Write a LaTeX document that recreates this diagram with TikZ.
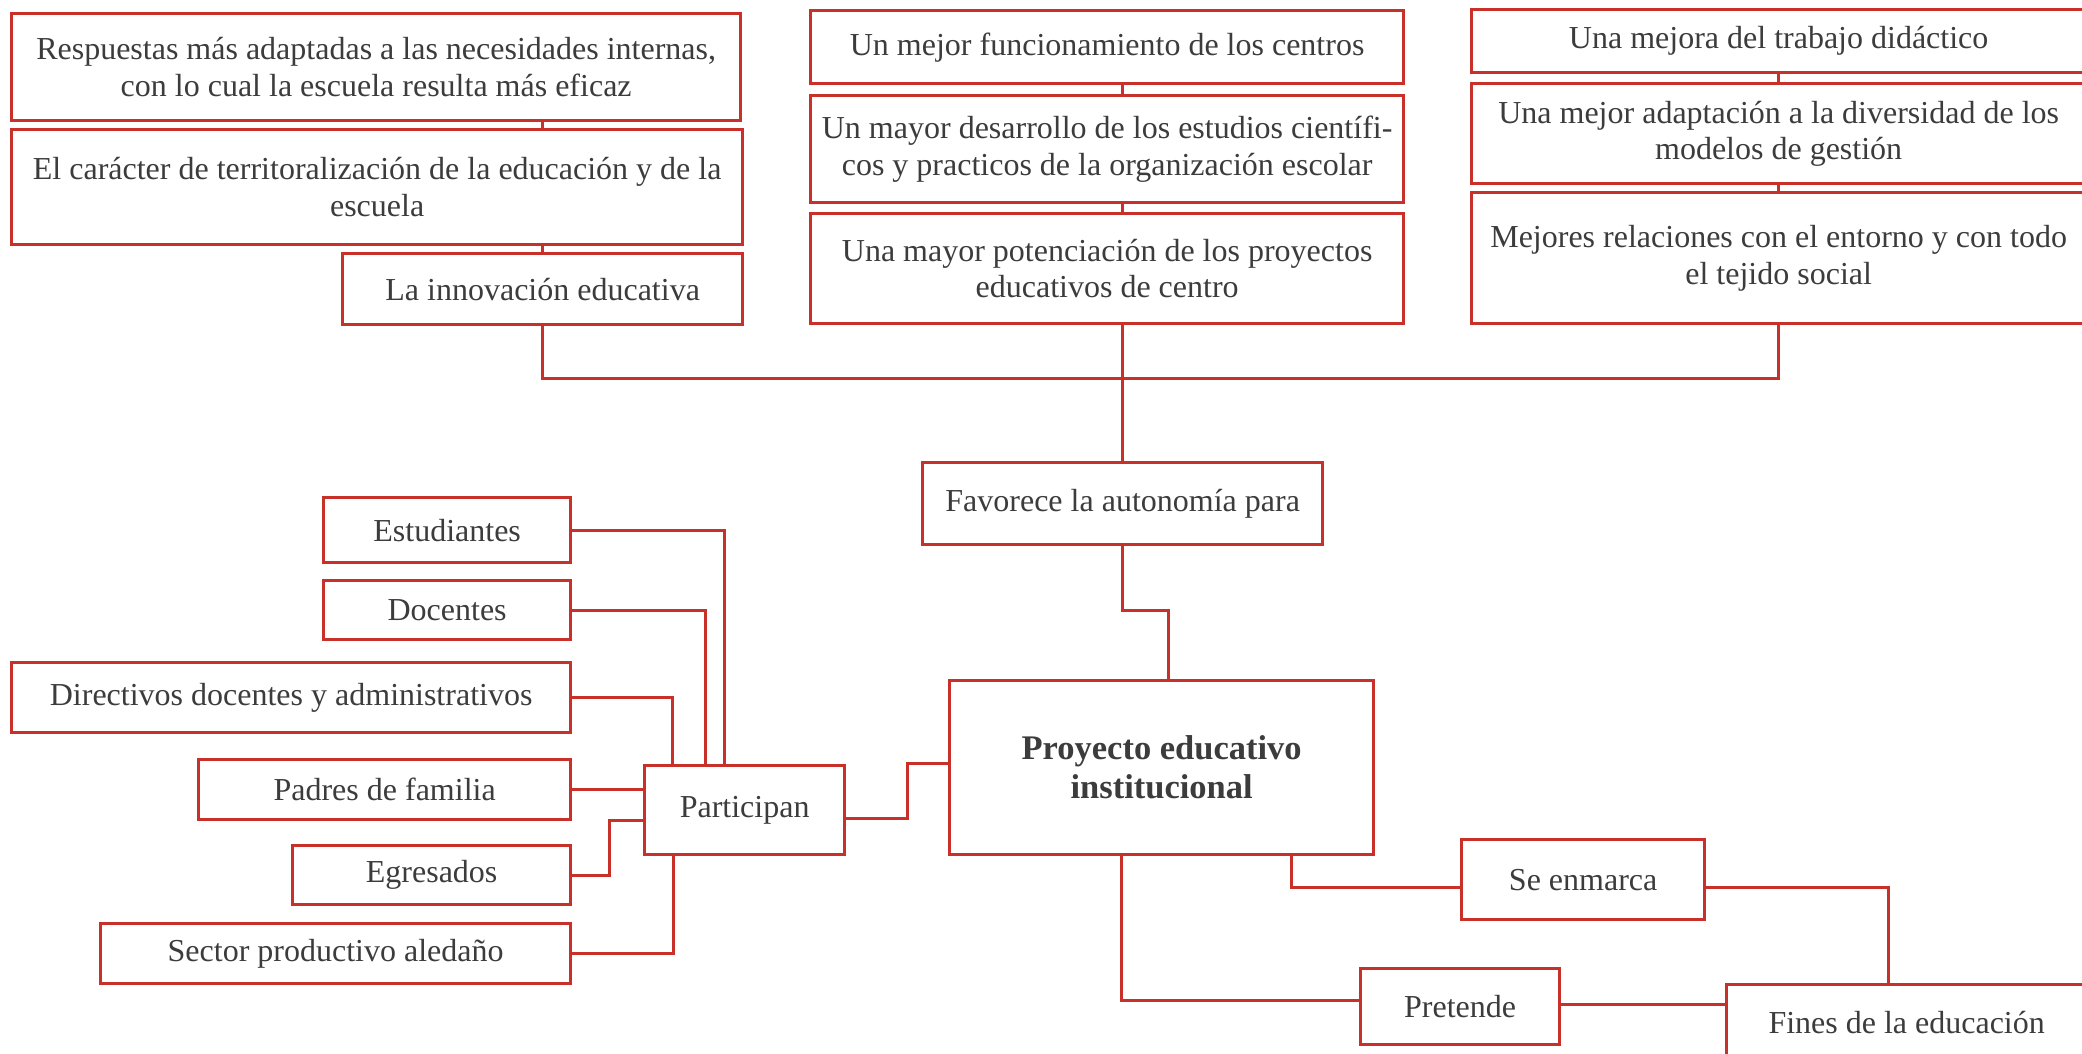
\documentclass[tikz,border=0pt]{standalone}
\usepackage{fontspec}
\setmainfont{Liberation Serif}
\usetikzlibrary{calc}
\definecolor{mred}{RGB}{200,48,42}
\definecolor{mtext}{RGB}{60,60,60}
\begin{document}
\begin{tikzpicture}[x=1pt,y=-1pt,
  box/.style={draw=mred, line width=3.3pt, fill=white, inner sep=0pt, align=center, text=mtext, font=\fontsize{32}{36.5}\selectfont, anchor=north west},
  link/.style={draw=mred, line width=3pt}]
\useasboundingbox (0,0) rectangle (2082,1053);
\clip (0,0) rectangle (2082,1053);
\fill[white] (0,0) rectangle (2082,1053);

% top-left column
\node[box, minimum width=729pt, minimum height=107pt] (r1) at (10,12) {Respuestas más adaptadas a las necesidades internas,\\con lo cual la escuela resulta más eficaz};
\node[box, minimum width=731pt, minimum height=115pt] (r2) at (10,128) {El carácter de territoralización de la educación y de la\\escuela};
\node[box, minimum width=400pt, minimum height=71pt] (r3) at (341,252) {La innovación educativa};

% top-centre column
\node[box, minimum width=593pt, minimum height=73pt] (c1) at (809,9) {Un mejor funcionamiento de los centros};
\node[box, minimum width=593pt, minimum height=107pt] (c2) at (809,94) {Un mayor desarrollo de los estudios científi-\\cos y practicos de la organización escolar};
\node[box, minimum width=593pt, minimum height=110pt] (c3) at (809,212) {Una mayor potenciación de los proyectos\\educativos de centro};

% top-right column
\node[box, minimum width=614pt, minimum height=63pt] (d1) at (1470,8) {Una mejora del trabajo didáctico};
\node[box, minimum width=614pt, minimum height=100pt] (d2) at (1470,82) {Una mejor adaptación a la diversidad de los\\modelos de gestión};
\node[box, minimum width=614pt, minimum height=131pt] (d3) at (1470,191) {Mejores relaciones con el entorno y con todo\\el tejido social};

% middle
\node[box, minimum width=400pt, minimum height=82pt] (fav) at (921,461) {Favorece la autonomía para};
\node[box, minimum width=424pt, minimum height=174pt, font=\bfseries\fontsize{34.5}{39}\selectfont] (pei) at (948,679) {Proyecto educativo\\institucional};

% left participants
\node[box, minimum width=200pt, minimum height=89pt] (part) at (643,764) {Participan};
\node[box, minimum width=247pt, minimum height=65pt] (est) at (322,496) {Estudiantes};
\node[box, minimum width=247pt, minimum height=59pt] (doc) at (322,579) {Docentes};
\node[box, minimum width=559pt, minimum height=70pt] (dir) at (10,661) {Directivos docentes y administrativos};
\node[box, minimum width=372pt, minimum height=60pt] (pad) at (197,758) {Padres de familia};
\node[box, minimum width=278pt, minimum height=59pt] (egr) at (291,844) {Egresados};
\node[box, minimum width=470pt, minimum height=60pt] (sec) at (99,922) {Sector productivo aledaño};

% bottom right
\node[box, minimum width=243pt, minimum height=80pt] (sen) at (1460,838) {Se enmarca};
\node[box, minimum width=199pt, minimum height=76pt] (pre) at (1359,967) {Pretende};
\node[box, minimum width=360pt, minimum height=75pt] (fin) at (1725,983) {Fines de la educación};

% connectors top
\draw[link] (r1.south -| r3.north) -- (r2.north -| r3.north);
\draw[link] (r2.south -| r3.north) -- (r3.north);
\coordinate (bus) at (1120,378);
\draw[link] (r3.south) |- (bus) -| (d3.south);
\draw[link] (c1.south -| fav.north) -- (c2.north -| fav.north);
\draw[link] (c2.south -| fav.north) -- (c3.north -| fav.north);
\draw[link] (c3.south -| fav.north) -- (fav.north);
\draw[link] (d1.south -| d3.south) -- (d2.north -| d3.south);
\draw[link] (d2.south -| d3.south) -- (d3.north);
\draw[link] (fav.south) -- ++(0,64) -| ([xshift=7pt]pei.north);

% connectors participants
\draw[link] (est.east) -| (part.north -| 724,0);
\draw[link] (doc.east) -| (part.north -| 705,0);
\draw[link] (dir.east) -| (part.north -| 672,0);
\draw[link] (pad.east) -- (part.west |- pad.east);
\draw[link] (egr.east) -- ++(37,0) |- (part.west |- 0,820);
\draw[link] (sec.east) -| (part.south -| 673,0);
\draw[link] (part.east |- 0,818) -- ++(61,0) |- (pei.west |- 0,763);

% connectors bottom right
\draw[link] (pei.south -| 1291,0) |- (sen.west |- 0,887);
\draw[link] (sen.east |- 0,887) -| (fin.north -| 1888,0);
\draw[link] (pei.south -| 1121,0) |- (pre.west |- 0,1000);
\draw[link] (pre.east |- 0,1004) -- (fin.west |- 0,1004);
\end{tikzpicture}
\end{document}
